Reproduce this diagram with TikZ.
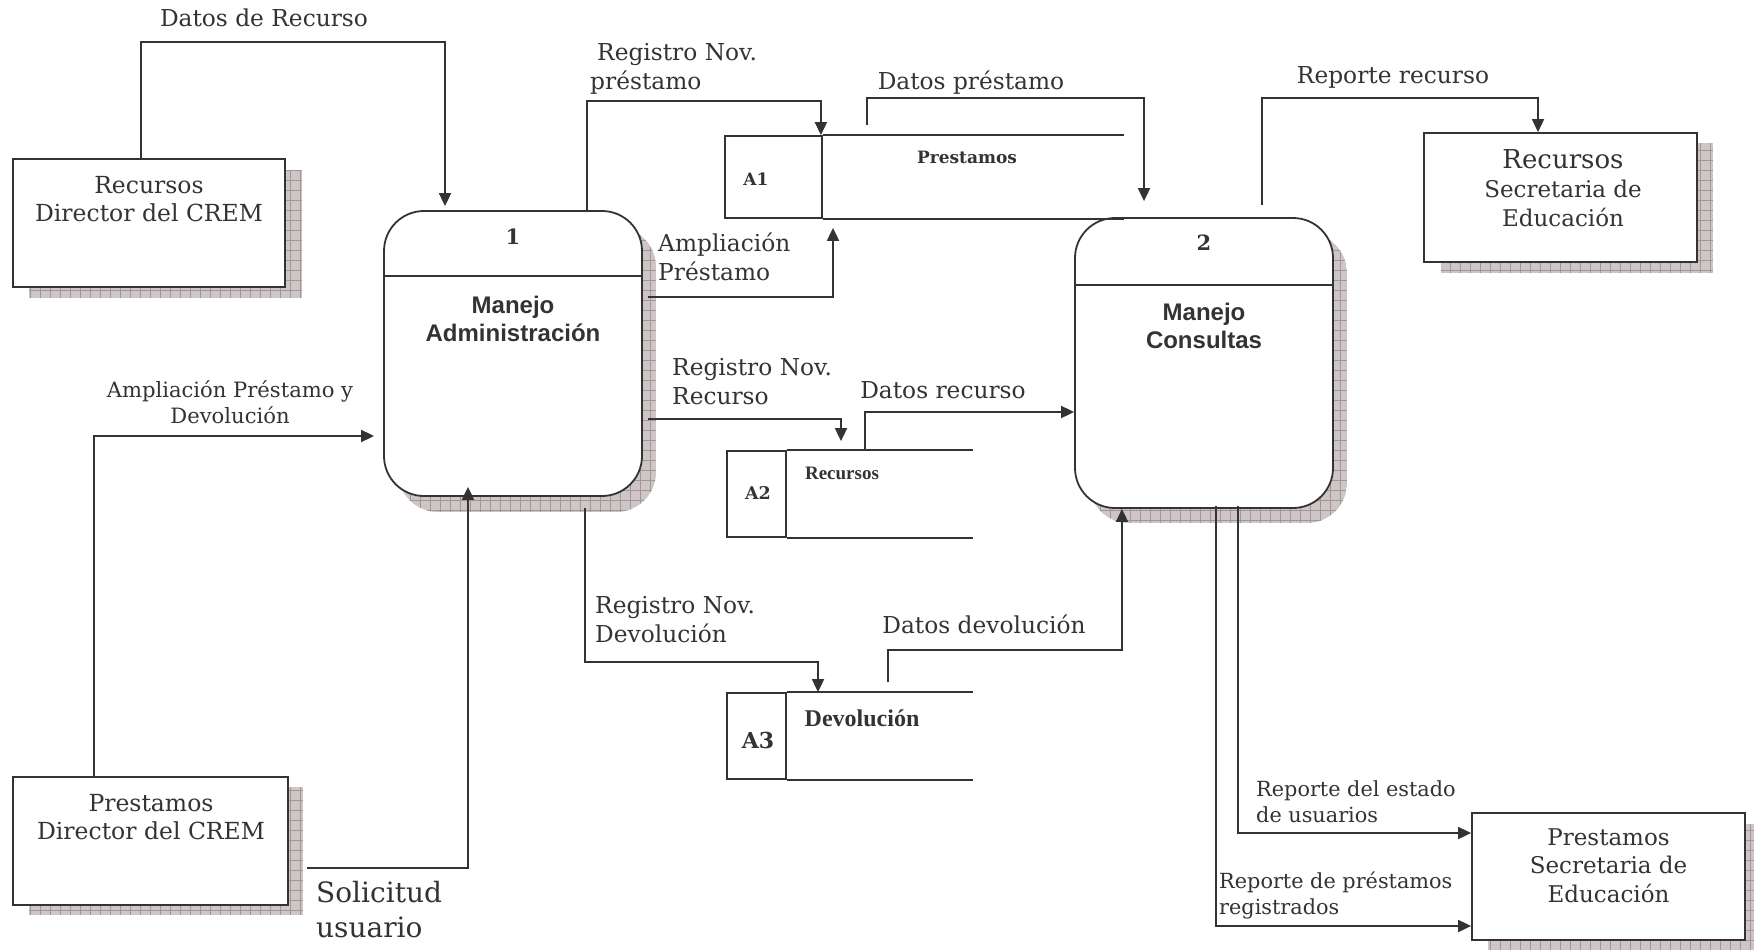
\documentclass[tikz,border=0pt]{standalone}
\usepackage{fontspec}
\setmainfont{DejaVu Serif}
\newfontfamily\procsans{Liberation Sans}
\newfontfamily\storeserif{Liberation Serif}
\usetikzlibrary{arrows.meta,calc}

\definecolor{ink}{RGB}{51,51,51}
\definecolor{shadefill}{RGB}{206,198,198}
\definecolor{shadegrid}{RGB}{160,150,150}

\tikzset{
  inkline/.style={draw=ink,line width=1.8pt},
  flow/.style={inkline,-{Triangle[length=13pt,width=12pt]}},
  entity/.style={draw=ink,line width=1.8pt,fill=white,inner sep=0pt},
  procbox/.style={draw=ink,line width=1.8pt,fill=white,rounded corners=40pt,inner sep=0pt,
                  minimum width=258pt},
  storeid/.style={draw=ink,line width=1.8pt,fill=white,inner sep=0pt},
  lab/.style={text=ink,inner sep=0pt,font=\fontsize{23.3}{29}\selectfont},
  smalllab/.style={text=ink,inner sep=0pt,font=\fontsize{20.8}{25.5}\selectfont},
  boxtext/.style={text=ink,inner sep=0pt,align=center,font=\fontsize{23.5}{28}\selectfont},
  proctitle/.style={text=ink,inner sep=0pt,align=center,font=\procsans\bfseries\fontsize{24}{28}\selectfont},
  procnum/.style={text=ink,inner sep=0pt,font=\bfseries\fontsize{21}{24}\selectfont},
}

% grid-hatched drop shadow: #1 corner radius, #2/#3 opposite corners
\newcommand\gridshadow[3][0pt]{%
  \begin{scope}
    \clip[rounded corners=#1] #2 rectangle #3;
    \fill[shadefill] #2 rectangle #3;
    \draw[shadegrid,line width=0.7pt,step=10pt] #2 grid #3;
  \end{scope}}

\begin{document}
\begin{tikzpicture}[x=1pt,y=-1pt]
\useasboundingbox (0,0) rectangle (1754,950);
\fill[white] (0,0) rectangle (1754,950);

% ---- shadows ----
\gridshadow{(29,170)}{(302,298)}
\gridshadow{(1441,143)}{(1713,273)}
\gridshadow{(1488,824)}{(1761,951)}
\gridshadow{(29,787)}{(303,915)}
\gridshadow[40pt]{(398,227)}{(656,512)}
\gridshadow[40pt]{(1089,233)}{(1347,523)}

% ---- external entities ----
\node[entity,minimum width=272pt,minimum height=128pt] (rdc) at (149,223) {};
\node[boxtext] (rdct) at (149,199) {Recursos\\Director del CREM};

\node[entity,minimum width=273pt,minimum height=129pt] (rse) at (1560.5,197.5) {};
\node[text=ink,inner sep=0pt,font=\fontsize{26}{28}\selectfont] (rset1) at (1563,159) {Recursos};
\node[boxtext,font=\fontsize{23}{29}\selectfont] (rset2) at (1563,203.5) {Secretaria de\\Educación};

\node[entity,minimum width=273pt,minimum height=127pt] (pse) at (1608.5,876.5) {};
\node[boxtext,font=\fontsize{23}{28.5}\selectfont] (pset) at (1608.5,865.5) {Prestamos\\Secretaria de\\Educación};

\node[entity,minimum width=275pt,minimum height=128pt] (pdc) at (150.5,841) {};
\node[boxtext] (pdct) at (151,817.5) {Prestamos\\Director del CREM};

% ---- processes ----
\node[procbox,minimum height=285pt] (p1) at (513,353.5) {};
\draw[inkline] ($(p1.north west)+(0,66)$) -- ($(p1.north east)+(0,66)$);
\node[procnum] (p1n) at (513,237) {1};
\node[proctitle] (p1t) at (513,319) {Manejo\\Administración};

\node[procbox,minimum height=290pt] (p2) at (1204,363) {};
\draw[inkline] ($(p2.north west)+(0,68)$) -- ($(p2.north east)+(0,68)$);
\node[procnum] (p2n) at (1204,243) {2};
\node[proctitle] (p2t) at (1204,326) {Manejo\\Consultas};

% ---- data stores ----
\node[storeid,minimum width=97pt,minimum height=82pt] (a1) at (773.5,177) {};
\draw[inkline] (a1.north east) -- ++(301,0);
\draw[inkline] (a1.south east) -- ++(301,0);
\node[text=ink,inner sep=0pt,font=\bfseries\fontsize{17}{20}\selectfont] (a1n) at (756,179) {A1};
\node[text=ink,inner sep=0pt,font=\bfseries\fontsize{17}{20}\selectfont] (a1t) at (967,157) {Prestamos};

\node[storeid,minimum width=59pt,minimum height=86pt] (a2) at (756.5,494) {};
\draw[inkline] (a2.north east) -- ++(186,0);
\draw[inkline] (a2.south east) -- ++(186,0);
\node[text=ink,inner sep=0pt,font=\bfseries\fontsize{17.5}{20}\selectfont] (a2n) at (758,493) {A2};
\node[text=ink,inner sep=0pt,font=\storeserif\bfseries\fontsize{19}{22}\selectfont] (a2t) at (842,473) {Recursos};

\node[storeid,minimum width=59pt,minimum height=86pt] (a3) at (756.5,736) {};
\draw[inkline] (a3.north east) -- ++(186,0);
\draw[inkline] (a3.south east) -- ++(186,0);
\node[text=ink,inner sep=0pt,font=\bfseries\fontsize{22}{24}\selectfont] (a3n) at (758,740) {A3};
\node[text=ink,inner sep=0pt,font=\storeserif\bfseries\fontsize{24}{26}\selectfont] (a3t) at (862,718) {Devolución};

% ---- bend points and free ends of the flows ----
\coordinate (k1) at (445,42);
\coordinate (k2) at (587,101);
\coordinate (k3s) at (867,125);
\coordinate (k3) at (1144,98);
\coordinate (k4) at (833,297);
\coordinate (k5) at (841,419);
\coordinate (k6) at (865,412);
\coordinate (k7) at (585,662);
\coordinate (k7b) at (818,662);
\coordinate (k8s) at (888,682);
\coordinate (k8) at (1122,650);
\coordinate (k9s) at (1262,205);
\coordinate (k9) at (1538,98);
\coordinate (k10) at (1238,833);
\coordinate (k11) at (1216,926);
\coordinate (k12) at (94,436);
\coordinate (k13) at (468,868);

% ---- data flows ----
\draw[flow,shorten >=4pt] ([xshift=-8pt]rdc.north) |- (k1) -- (k1 |- p1.north);
\draw[flow] (k2 |- p1.north) -- (k2) -| ([xshift=-2pt]a1.north east);
\draw[flow,shorten >=16pt] (k3s) |- (k3) -- (k3 |- p2.north);
\draw[flow,shorten <=5pt,shorten >=9pt] (p1.east |- k4) -- (k4) -- (k4 |- a1.south);
\draw[flow,shorten <=5pt,shorten >=9pt] (p1.east |- k5) -- (k5) -- (k5 |- a2.north);
\draw[flow] (k6 |- a2.north) -- (k6) -- (p2.west |- k6);
\draw[flow,shorten <=11pt] (k7 |- p1.south) -- (k7) -- (k7b) -- (k7b |- a3.north);
\draw[flow] (k8s) |- (k8) -- (k8 |- p2.south);
\draw[flow] (k9s) |- (k9) -- (k9 |- rse.north);
\draw[flow,shorten <=-3pt] (k10 |- p2.south) -- (k10) -- (pse.west |- k10);
\draw[flow,shorten <=-3pt] (k11 |- p2.south) -- (k11) -- (pse.west |- k11);
\draw[flow,shorten >=9pt] (k12 |- pdc.north) -- (k12) -- (p1.west |- k12);
\draw[flow,shorten <=18pt,shorten >=-10pt] (pdc.east |- k13) -- (k13) -- (k13 |- p1.south);

% ---- flow labels ----
\node[lab] (l1) at (264,18) {Datos de Recurso};
\node[lab,align=left,anchor=west] (l2) at (590,68.5) {\hspace*{7pt}Registro Nov.\\préstamo};
\node[lab] (l3) at (971,83) {Datos préstamo};
\node[lab,align=left,anchor=west] (l4) at (658,256.5) {Ampliación\\Préstamo};
\node[lab,align=left,anchor=west] (l5) at (672,382) {Registro Nov.\\Recurso};
\node[lab] (l6) at (943,390) {Datos recurso};
\node[lab,align=left,anchor=west] (l7) at (595,620) {Registro Nov.\\Devolución};
\node[lab] (l8) at (984,624) {Datos devolución};
\node[lab] (l9) at (1393,77) {Reporte recurso};
\node[smalllab,align=center,font=\fontsize{21.1}{26}\selectfont] (l10) at (230,402) {Ampliación Préstamo y\\Devolución};
\node[smalllab,align=left,anchor=west] (l11) at (1256,801.5) {Reporte del estado\\de usuarios};
\node[smalllab,align=left,anchor=west] (l12) at (1219,895.5) {Reporte de préstamos\\registrados};
\node[text=ink,inner sep=0pt,align=left,anchor=west,font=\fontsize{28}{35}\selectfont] (l13) at (316,909.5) {Solicitud\\usuario};
\end{tikzpicture}
\end{document}
